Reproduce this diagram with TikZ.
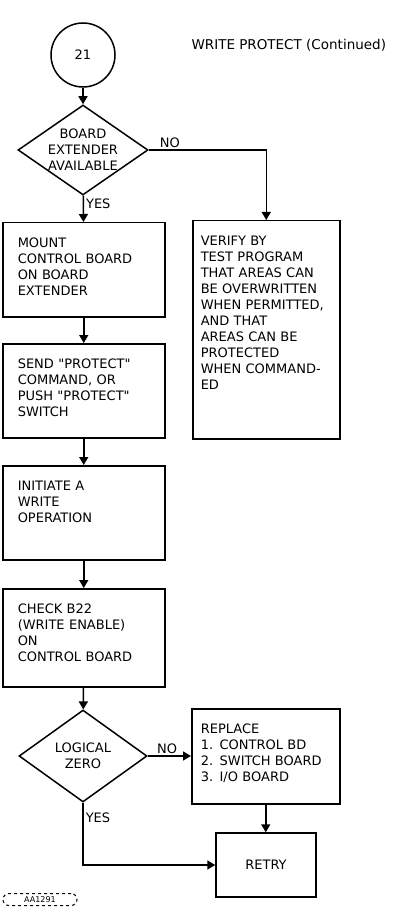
\documentclass[tikz,border=0pt]{standalone}
\usepackage{fontspec}
\setmainfont{DejaVu Sans}
\usetikzlibrary{arrows.meta,positioning,shapes.geometric}

\begin{document}
\begin{tikzpicture}[x=1pt,y=-1pt,
    font=\fontsize{13}{16}\selectfont,
    proc/.style={draw, line width=1.5pt, anchor=north west, align=left,
      inner xsep=15pt, inner ysep=15pt, text width=132pt,
      text height=10pt, text depth=#1},
    dec/.style={draw, diamond, line width=1.5pt, inner sep=-20pt, align=center,
      minimum width=130pt, minimum height=90pt},
    arr/.style={line width=1.5pt, -{Triangle[length=8pt,width=9pt]}},
    lab/.style={inner sep=2pt}]
    \useasboundingbox (0,0) rectangle (393,909);
    % Nodes
    \node[draw, circle, line width=1.5pt, minimum size=64pt] (c21) at (83,55) {21};
    \node[anchor=west, font=\fontsize{13.5}{16}\selectfont] (title) at (188,45) {WRITE PROTECT (Continued)};
    \node[dec] (board) at (83,150) {BOARD\\EXTENDER\\AVAILABLE};
    \node[proc=54pt] (mount) at (2,222) {MOUNT\\CONTROL BOARD\\ON BOARD\\EXTENDER};
    \node[proc=178pt, inner xsep=8pt, text width=131pt] (verify) at (192,220)
      {VERIFY BY\\TEST PROGRAM\\THAT AREAS CAN\\BE OVERWRITTEN\\WHEN PERMITTED,\\AND THAT\\AREAS CAN BE\\PROTECTED\\WHEN COMMAND-\\ED};
    \node[proc=54pt] (send) at (2,343)
      {SEND \textquotedbl PROTECT\textquotedbl\\COMMAND, OR\\PUSH \textquotedbl PROTECT\textquotedbl\\SWITCH};
    \node[proc=54pt] (initiate) at (2,465) {INITIATE A\\WRITE\\OPERATION};
    \node[proc=58pt] (check) at (2,588) {CHECK B22\\(WRITE ENABLE)\\ON\\CONTROL BOARD};
    \node[dec, minimum width=128pt, minimum height=92pt] (zero) at (83,756) {LOGICAL\\ZERO};
    \node[proc=55pt, inner xsep=9pt, text width=130pt] (replace) at (191,708)
      {REPLACE\\1. CONTROL BD\\2. SWITCH BOARD\\3. I/O BOARD};
    \node[draw, line width=1.5pt, minimum width=100pt, minimum height=64pt] (retry) at (266,865) {RETRY};
    \begin{scope}
      \clip (0,0) rectangle (393,909);
      \node[draw, dashed, rounded corners=6pt, line width=1pt, anchor=north,
        minimum width=74pt, inner ysep=3pt, font=\fontsize{8}{10}\selectfont] (fig) at (40,893) {AA1291};
    \end{scope}
    % Arrows
    \draw[arr] (c21) -- (board);
    \draw[arr] (board.east) -| node[lab, above, pos=0.09]{NO} (verify.north);
    \draw[arr] (board) -- node[lab, right, pos=0.3]{YES} (mount);
    \draw[arr] (mount) -- (send);
    \draw[arr] (send) -- (initiate);
    \draw[arr] (initiate) -- (check);
    \draw[arr] (check) -- (zero);
    \draw[arr] (zero.east) -- node[lab, above, pos=0.45]{NO} (zero.east -| replace.west);
    \draw[arr] (replace.south) -- (replace.south |- retry.north);
    \draw[arr] (zero.south) |- node[lab, right, pos=0.12]{YES} (retry.west);
\end{tikzpicture}
\end{document}
